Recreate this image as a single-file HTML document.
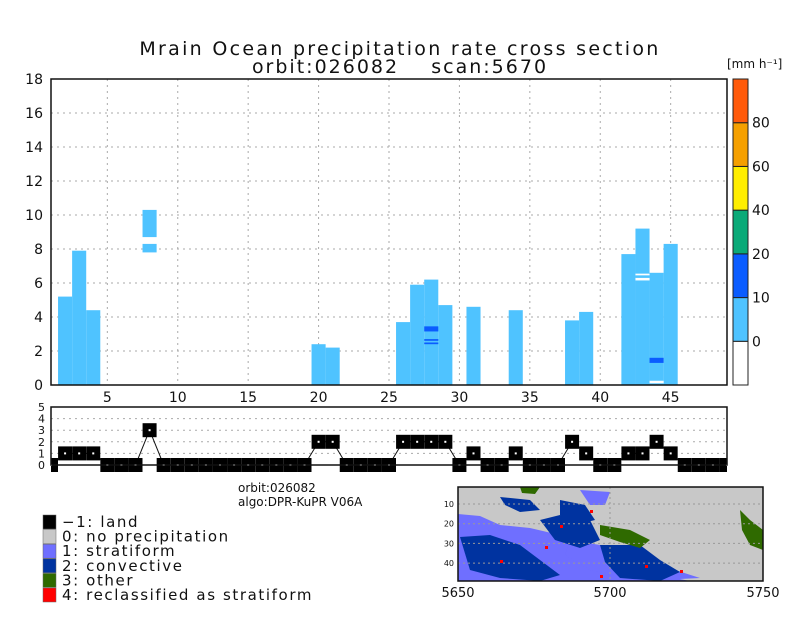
<!DOCTYPE html>
<html><head><meta charset="utf-8"><style>
html,body{margin:0;padding:0;background:#fff;}
svg{display:block;font-family:"DejaVu Sans","Liberation Sans",sans-serif;}
</style></head><body>
<svg id="c" width="800" height="618" viewBox="0 0 800 618">
<defs><clipPath id="lowclip"><rect x="51" y="400" width="676" height="72"/></clipPath></defs>
<text x="400" y="55" text-anchor="middle" font-size="19" fill="#111" style="letter-spacing:2.3px">Mrain Ocean precipitation rate cross section</text>
<text x="400" y="73" text-anchor="middle" font-size="19" fill="#111" style="letter-spacing:2px;white-space:pre" xml:space="preserve">orbit:026082    scan:5670</text>
<g id="main"></g>
<g id="cbar"></g>
<g id="low"></g>
<text x="238" y="492" font-size="12" fill="#111">orbit:026082</text>
<text x="238" y="506" font-size="12" fill="#111">algo:DPR-KuPR V06A</text>
<g id="legend"></g>
<g id="map"></g>
</svg>
<script>
const NS="http://www.w3.org/2000/svg";
function mk(p,t,a){const e=document.createElementNS(NS,t);for(const k in a)e.setAttribute(k,a[k]);p.appendChild(e);return e;}
// ---- data ----
const rayIdx=[2,3,4,20,21,26,27,28,29,31,34,38,39,42,43,44,45];
const rainTop=[5.2,7.9,4.4,2.4,2.2,3.7,5.9,6.2,4.7,4.6,4.4,3.8,4.3,7.7,9.2,6.6,8.3];
const extraRay=[8,8];
const extraBottom=[8.7,7.8];
const extraTop=[10.3,8.3];
const heavyRay=[28,28,28,44];
const heavyBottom=[3.15,2.6,2.4,1.3];
const heavyTop=[3.45,2.7,2.5,1.6];
const gapRay=[43,43,44];
const gapBottom=[6.45,6.15,0.1];
const gapTop=[6.55,6.3,0.25];
const yTicks=[0,2,4,6,8,10,12,14,16,18];
const xTicks=[5,10,15,20,25,30,35,40,45];
const typeVals=[0,1,1,1,0,0,0,3,0,0,0,0,0,0,0,0,0,0,0,2,2,0,0,0,0,2,2,2,2,0,1,0,0,1,0,0,0,2,1,0,0,1,1,2,1,0,0,0,0];
const cbLevels=["0","10","20","40","60","80"];
const cbColors=["#ffffff","#4fc3ff","#0a5cff","#0aaa78","#ffee00","#f5a000","#ff5a0a"];
const legLabels=["\u22121: land","0: no precipitation","1: stratiform","2: convective","3: other","4: reclassified as stratiform"];
const legColors=["#000000","#c8c8c8","#6f6fff","#0033a0","#2f6a00","#ff0000"];
// ---- main axes ----
const L=51,R=727,T=79,B=385;
const X=v=>L+(v-1)*(R-L)/48;
const Y=v=>B-v*(B-T)/18;
const g=document.getElementById('main');
yTicks.forEach(t=>{if(t>0&&t<18){const l=mk(g,'line',{x1:L,x2:R,y1:Y(t),y2:Y(t),stroke:'#aaa','stroke-dasharray':'2,4'});}
 const tx=mk(g,'text',{x:L-8,y:Y(t)+5,'text-anchor':'end','font-size':14,fill:'#111'});tx.textContent=t;
 });
xTicks.forEach(t=>{const l=mk(g,'line',{x1:X(t),x2:X(t),y1:T,y2:B,stroke:'#aaa','stroke-dasharray':'2,4'});
 
 const tx=mk(g,'text',{x:X(t),y:B+17,'text-anchor':'middle','font-size':14,fill:'#111'});tx.textContent=t;
 });
function col(r,b,t,c,name){const e=mk(g,'rect',{x:X(r-0.5),y:Y(t),width:X(r+0.5)-X(r-0.5),height:Y(b)-Y(t),fill:c});
 }
rayIdx.forEach((r,i)=>col(r,0,rainTop[i],'#4fc3ff','rain-column'));
extraRay.forEach((r,i)=>col(r,extraBottom[i],extraTop[i],'#4fc3ff','rain-column'));
heavyRay.forEach((r,i)=>col(r,heavyBottom[i],heavyTop[i],'#0a5cff','heavy-rain-cell'));
gapRay.forEach((r,i)=>col(r,gapBottom[i],gapTop[i],'#ffffff','rain-gap'));
const fr=mk(g,'rect',{x:L,y:T,width:R-L,height:B-T,fill:'none',stroke:'#111','stroke-width':1.5});

// ---- colorbar ----
const cb=document.getElementById('cbar');
const cbT=79,cbB=385,cbN=cbColors.length,cbH=(cbB-cbT)/cbN;
cbColors.forEach((c,i)=>{const e=mk(cb,'rect',{x:733,y:cbB-(i+1)*cbH,width:15,height:cbH,fill:c,stroke:'#222','stroke-width':1});
 });
cbLevels.forEach((s,i)=>{const t=mk(cb,'text',{x:752,y:cbB-(i+1)*cbH+5,'font-size':14,fill:'#111'});t.textContent=s;
 });
const ut=mk(cb,'text',{x:727,y:68,'font-size':12,fill:'#111'});ut.textContent='[mm h\u207B\u00B9]';

// ---- lower type plot ----
const lg=document.getElementById('low');
const lT=407,lB=465,Y2=v=>lB-v*(lB-lT)/5;
[0,1,2,3,4,5].forEach(t=>{if(t>0&&t<5){const l=mk(lg,'line',{x1:L,x2:R,y1:Y2(t),y2:Y2(t),stroke:'#aaa','stroke-dasharray':'2,4'});
 }
 const tx=mk(lg,'text',{x:L-6,y:Y2(t)+4,'text-anchor':'end','font-size':11,fill:'#111'});tx.textContent=t;
 });
const lc=mk(lg,'g',{'clip-path':'url(#lowclip)'});
const pts=typeVals.map((v,i)=>X(i+1)+','+Y2(v)).join(' ');
const pl=mk(lc,'polyline',{points:pts,fill:'none',stroke:'#111','stroke-width':1});

typeVals.forEach((v,i)=>{const cx=X(i+1),cy=Y2(v);
 const m=mk(lc,'rect',{x:cx-7,y:cy-7,width:14,height:14,fill:'#000'});
 
 mk(lc,'rect',{x:cx-1,y:cy-1,width:2,height:2,fill:'#fff'});});
const lf=mk(lg,'rect',{x:L,y:lT,width:R-L,height:lB-lT,fill:'none',stroke:'#111','stroke-width':1.5});

// ---- legend ----
const le=document.getElementById('legend');
legLabels.forEach((s,i)=>{const y=515+i*14.6;
 const r=mk(le,'rect',{x:43,y:y,width:13,height:14,fill:legColors[i],stroke:'#666','stroke-width':0.5});
 
 const t=mk(le,'text',{x:62,y:y+12,'font-size':15,fill:'#111','letter-spacing':'1.6'});t.textContent=s;
 });
// ---- map ----
const mp=document.getElementById('map');
const mL=458,mR=763,mT=487,mB=581;
mk(mp,'rect',{x:mL,y:mT,width:mR-mL,height:mB-mT,fill:'#c8c8c8'});
const blobs=[
 ['#6f6fff','M458,514 L480,516 L500,525 L530,528 L560,535 L580,545 L600,552 L620,555 L640,565 L660,575 L690,581 L458,581Z'],
 ['#6f6fff','M570,540 L600,545 L625,552 L650,560 L675,570 L700,578 L640,581 L590,570 L565,555Z'],
 ['#0033a0','M460,537 L490,535 L520,545 L540,560 L560,575 L540,581 L500,578 L470,570Z'],
 ['#0033a0','M540,520 L560,515 L590,520 L600,540 L580,548 L555,540Z'],
 ['#0033a0','M600,545 L640,545 L660,560 L680,572 L660,581 L620,578 L605,562Z'],
 ['#6f6fff','M580,490 L610,492 L605,505 L590,505Z'],
 ['#0033a0','M560,500 L585,505 L595,520 L575,525 L560,515Z'],
 ['#2f6a00','M600,525 L630,530 L650,540 L640,548 L620,542 L600,535Z'],
 ['#2f6a00','M740,510 L750,520 L763,530 L763,550 L750,545 L742,530Z'],
 ['#0033a0','M500,497 L530,500 L540,510 L520,512 L505,505Z'],
 ['#2f6a00','M520,487 L540,487 L535,494 L522,493Z']];
blobs.forEach(b=>{const e=mk(mp,'path',{d:b[1],fill:b[0]});});
[[545,546],[560,525],[590,510],[600,575],[680,570],[645,565],[500,560]].forEach(p=>{const e=mk(mp,'rect',{x:p[0],y:p[1],width:3,height:3,fill:'#f00'});
 });
[10,20,30,40].forEach((v,i)=>{const y=504+i*19.7;mk(mp,'line',{x1:mL,x2:mR,y1:y,y2:y,stroke:'#999','stroke-dasharray':'2,3'});
 const t=mk(mp,'text',{x:mL-4,y:y+3,'text-anchor':'end','font-size':8,fill:'#111'});t.textContent=v;
 });
mk(mp,'line',{x1:610,x2:610,y1:mT,y2:mB,stroke:'#999','stroke-dasharray':'2,3'});
[['5650',mL],['5700',610],['5750',mR]].forEach(p=>{const t=mk(mp,'text',{x:p[1],y:597,'text-anchor':'middle','font-size':13,fill:'#111'});t.textContent=p[0];
 });
const mf=mk(mp,'rect',{x:mL,y:mT,width:mR-mL,height:mB-mT,fill:'none',stroke:'#111','stroke-width':1.5});

</script>
</body></html>
